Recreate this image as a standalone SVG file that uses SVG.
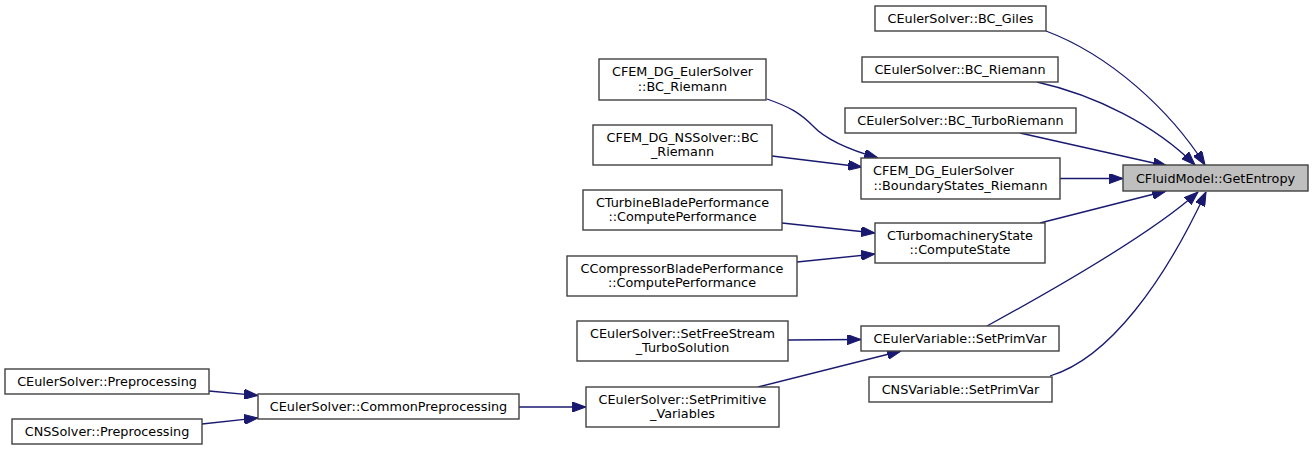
<svg xmlns="http://www.w3.org/2000/svg" width="1313" height="451" viewBox="0 0 1313 451">
<style>
.node rect{fill:#ffffff;stroke:#404040;stroke-width:1.4}
.node.root rect{fill:#bfbfbf;stroke:#404040}
.node text{font-family:"DejaVu Sans","Liberation Sans",sans-serif;font-size:12.8px;fill:#000000;text-anchor:middle}
.node text.st{text-anchor:start}
.edges path{fill:none;stroke:#191970;stroke-width:1.3;marker-end:url(#arr)}
</style>
<defs>
<marker id="arr" markerUnits="userSpaceOnUse" markerWidth="14" markerHeight="10" viewBox="0 0 13 9.4" refX="13" refY="4.7" orient="auto">
<path d="M0,0 L13,4.7 L0,9.4 z" fill="#191970" stroke="#191970" stroke-width="1"/>
</marker>
</defs>
<rect x="0" y="0" width="1313" height="451" fill="#ffffff"/>
<g class="edges" id="connectors">
<path d="M1046,31 C1110,55 1170,110 1205,165"/>
<path d="M1037,82 C1095,95 1155,125 1195,165"/>
<path d="M1020,133 L1167,166"/>
<path d="M1060,178.5 L1123,178.5"/>
<path d="M1040,223 L1166,191"/>
<path d="M987,326 C1040,297 1150,235 1198,192"/>
<path d="M1050,376 C1110,358 1165,280 1206,192"/>
<path d="M767,99 C790,107 800,113 813,126 C826,140 850,150 878,158"/>
<path d="M772,156 L862,167"/>
<path d="M782,223 L875,233"/>
<path d="M797,262 L875,254"/>
<path d="M788,340 L861,339.5"/>
<path d="M758,387 L901,351"/>
<path d="M519,407 L586,407"/>
<path d="M209,391 L258,395.5"/>
<path d="M202,424 L258,418"/>
</g>
<g class="node" id="n_giles"><rect x="875" y="6" width="171" height="25"/><text x="960.5" y="23">CEulerSolver::BC_Giles</text></g>
<g class="node" id="n_bcriemann"><rect x="862" y="57" width="196" height="25"/><text x="960" y="74">CEulerSolver::BC_Riemann</text></g>
<g class="node" id="n_turboriemann"><rect x="845" y="108" width="231" height="25"/><text x="960.5" y="125">CEulerSolver::BC_TurboRiemann</text></g>
<g class="node" id="n_fem_euler_bc"><rect x="599" y="59" width="167" height="41"/><text x="682.5" y="76">CFEM_DG_EulerSolver</text><text x="682.5" y="90.5">::BC_Riemann</text></g>
<g class="node" id="n_fem_ns_bc"><rect x="593" y="125" width="179" height="40"/><text x="682.5" y="141.5">CFEM_DG_NSSolver::BC</text><text x="682.5" y="156">_Riemann</text></g>
<g class="node" id="n_boundary"><rect x="861" y="158" width="199" height="41"/><text class="st" x="873" y="175">CFEM_DG_EulerSolver</text><text x="960.5" y="189.5">::BoundaryStates_Riemann</text></g>
<g class="node root" id="n_root"><rect x="1123" y="165" width="185" height="26"/><text x="1215.5" y="182.5">CFluidModel::GetEntropy</text></g>
<g class="node" id="n_turbine"><rect x="583" y="190" width="199" height="40"/><text x="682.5" y="206.5">CTurbineBladePerformance</text><text x="682.5" y="221">::ComputePerformance</text></g>
<g class="node" id="n_compressor"><rect x="567" y="256" width="230" height="40"/><text x="682" y="272.5">CCompressorBladePerformance</text><text x="682" y="287">::ComputePerformance</text></g>
<g class="node" id="n_turbostate"><rect x="875" y="223" width="170" height="40"/><text x="960" y="239.5">CTurbomachineryState</text><text x="960" y="254">::ComputeState</text></g>
<g class="node" id="n_freestream"><rect x="577" y="321" width="211" height="40"/><text x="682.5" y="337.5">CEulerSolver::SetFreeStream</text><text x="682.5" y="352">_TurboSolution</text></g>
<g class="node" id="n_eulervar"><rect x="861" y="326" width="198" height="25"/><text x="960" y="343">CEulerVariable::SetPrimVar</text></g>
<g class="node" id="n_nsvar"><rect x="869" y="377" width="183" height="25"/><text x="960.5" y="394">CNSVariable::SetPrimVar</text></g>
<g class="node" id="n_setprim"><rect x="586" y="387" width="193" height="40"/><text x="682.5" y="403.5">CEulerSolver::SetPrimitive</text><text x="682.5" y="418">_Variables</text></g>
<g class="node" id="n_common"><rect x="258" y="394" width="261" height="25"/><text x="388.5" y="411">CEulerSolver::CommonPreprocessing</text></g>
<g class="node" id="n_eulerpre"><rect x="5" y="369" width="204" height="25"/><text x="107" y="386">CEulerSolver::Preprocessing</text></g>
<g class="node" id="n_nspre"><rect x="12" y="419" width="190" height="25"/><text x="107" y="436">CNSSolver::Preprocessing</text></g>
</svg>
